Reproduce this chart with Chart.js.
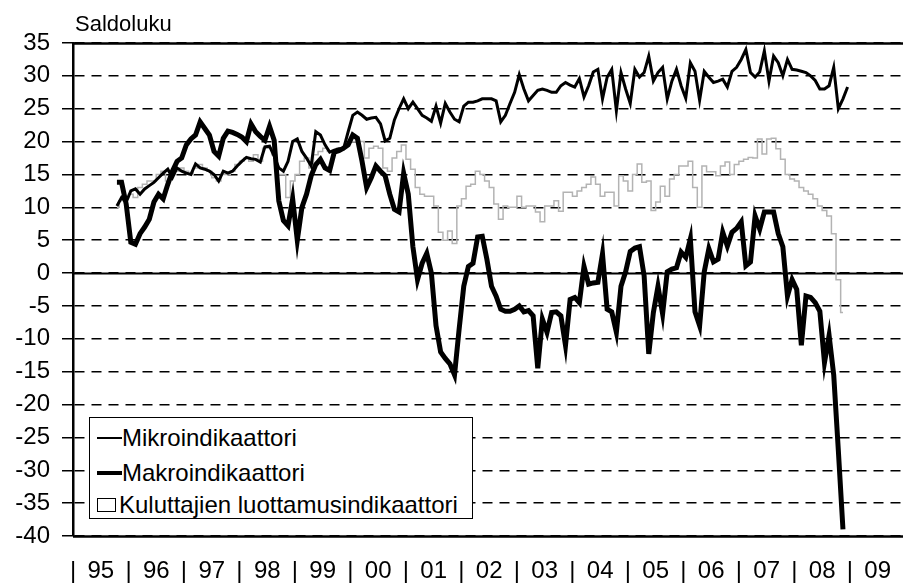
<!DOCTYPE html>
<html>
<head>
<meta charset="utf-8">
<script src="https://cdn.jsdelivr.net/npm/chart.js@4.4.1/dist/chart.umd.min.js"></script>
<style>
html,body{margin:0;padding:0;background:#fff;overflow:hidden;}
#wrap{position:relative;width:903px;height:587px;overflow:hidden;background:#fff;}
#c{position:absolute;left:0;top:0;}
#legend{position:absolute;left:89px;top:417px;width:384px;height:102px;border:1.5px solid #000;background:#fff;
  font-family:"Liberation Sans",Arial,sans-serif;font-size:24px;color:#000;box-sizing:border-box;}
.row{position:absolute;left:7px;height:30px;line-height:30px;white-space:nowrap;}
.ln{display:inline-block;vertical-align:middle;width:25px;background:#000;}
.sq{display:inline-block;vertical-align:middle;width:19px;height:14px;border:1.5px solid #000;background:#fff;margin-right:3px;box-sizing:border-box;}
</style>
</head>
<body>
<div id="wrap">
  <canvas id="c" width="912" height="587"></canvas>
  <div id="legend"></div>
</div>
<script>
// ---- data ----
const Y_TITLE = 'Saldoluku';
const YEARS = ['95','96','97','98','99','00','01','02','03','04','05','06','07','08','09'];
const SERIES_NAMES = ['Mikroindikaattori','Makroindikaattori','Kuluttajien luottamusindikaattori'];
const START_MONTH = 9; // first observation: October 1995 (months counted from January 1995)

const mikro = [
  10.2, 11.5, 10.8,
  12.5, 12.8, 12.0, 12.8, 13.3, 13.8, 14.5, 15.2, 15.8, 14.5, 16.0, 15.5,
  15.2, 15.0, 16.6, 16.0, 15.8, 15.5, 15.0, 14.0, 15.5, 15.2, 15.5, 16.3,
  17.0, 17.6, 17.4, 17.3, 16.9, 19.2, 19.3, 17.8, 16.0, 15.5, 17.0, 20.0,
  20.4, 18.5, 17.5, 16.3, 21.5, 21.0, 19.5, 18.4, 18.7, 18.9, 18.9, 21.5,
  24.0, 24.5, 24.0, 23.4, 23.6, 23.7, 22.7, 20.1, 20.5, 23.3, 25.0, 26.5,
  25.0, 26.0, 25.0, 24.0, 23.6, 23.1, 25.4, 22.8, 25.8, 24.5, 23.4, 23.0,
  25.4, 26.0, 26.0, 26.2, 26.5, 26.5, 26.5, 26.2, 23.0, 24.0, 25.8, 27.5,
  30.2, 28.0, 26.2, 27.0, 27.8, 28.0, 27.8, 27.5, 27.5, 28.5, 29.0, 28.6,
  28.3, 29.6, 26.8, 28.5, 30.6, 31.0, 26.5, 29.8, 31.0, 24.7, 30.5, 28.0,
  25.8, 31.0, 29.8, 30.5, 33.0, 29.2, 30.5, 31.3, 26.5, 29.2, 31.0, 28.5,
  26.6, 32.0, 30.7, 26.3, 30.7, 29.8, 29.0, 29.2, 29.5, 28.3, 30.7, 31.3,
  32.5, 34.0, 30.5, 29.8, 30.6, 33.8, 29.2, 33.0, 32.0, 30.0, 32.5, 31.0,
  30.9, 30.7, 30.5, 30.0, 29.3, 28.0, 28.0, 28.5, 31.3, 25.0, 26.5, 28.3
];
const makro = [
  13.8, 13.8, 10.5,
  4.7, 4.4, 6.0, 7.0, 8.2, 10.8, 12.0, 11.3, 13.5, 15.5, 17.0, 17.5,
  19.5, 20.4, 21.0, 23.0, 22.0, 21.0, 18.5, 17.8, 20.5, 21.6, 21.4, 21.1,
  20.7, 20.0, 22.7, 21.5, 20.8, 20.2, 22.3, 20.2, 11.0, 8.0, 7.2, 11.3,
  5.0, 10.0, 12.0, 14.8, 16.5, 17.3, 16.0, 15.6, 18.4, 18.6, 19.0, 19.5,
  21.0, 20.5, 17.0, 13.0, 14.5, 16.3, 15.5, 14.8, 12.0, 9.7, 9.3, 15.2,
  12.0, 4.0, -1.0, 1.5, 3.0, 0.0, -8.0, -12.0, -13.0, -13.8, -15.5, -8.5,
  -2.0, 1.0, 1.5, 5.5, 5.6, 2.1, -2.0, -3.5, -5.5, -5.8, -5.8, -5.5,
  -5.0, -5.9, -5.7, -6.5, -14.5, -7.0, -9.0, -6.0, -5.9, -6.5, -11.0, -4.0,
  -3.7, -4.5, 1.0, -1.7, -1.5, -1.4, 2.9, -5.5, -5.9, -9.0, -2.0, 0.2,
  3.3, 3.8, 4.0, -0.4, -12.3, -6.0, -2.0, -6.2, 0.2, 0.6, 0.8, 3.2,
  2.4, 5.2, -5.9, -8.0, 0.2, 3.7, 1.7, 2.1, 6.2, 4.1, 6.2, 6.8,
  7.8, 1.1, 1.7, 8.7, 6.7, 9.3, 9.3, 9.3, 6.0, 4.0, -3.5, -1.0,
  -2.5, -11.0, -3.5, -3.7, -4.5, -5.8, -13.6, -9.5, -15.5, -27.0, -39.0
];
const kuluttajat = [
  10.0, 11.0, 11.5,
  12.0, 11.5, 13.0, 13.5, 14.0, 14.0, 15.0, 15.5, 14.0, 15.0, 15.5, 16.0,
  15.5, 15.0, 16.0, 16.5, 16.0, 15.5, 14.5, 14.0, 15.0, 15.0, 15.5, 16.5,
  17.0, 17.5, 17.0, 18.0, 17.0, 19.0, 19.0, 18.0, 15.0, 15.0, 11.5, 14.0,
  15.0, 17.0, 17.5, 16.0, 18.0, 18.5, 19.0, 18.5, 18.5, 19.0, 19.0, 20.0,
  20.0, 20.0, 20.0, 17.5, 19.0, 19.3, 19.0, 16.0, 15.5, 17.5, 18.5, 19.5,
  17.3, 15.8, 13.0, 12.0, 11.7, 11.7, 10.2, 6.2, 5.0, 6.4, 4.5, 10.2,
  11.3, 13.2, 13.5, 15.5, 15.0, 14.0, 13.0, 10.5, 8.2, 10.2, 10.0, 10.0,
  11.7, 10.0, 10.2, 10.2, 9.3, 7.8, 10.2, 10.2, 11.0, 9.4, 12.3, 12.3,
  11.7, 12.5, 13.0, 13.5, 14.6, 13.5, 11.7, 12.3, 12.3, 10.2, 14.8, 14.0,
  12.5, 15.0, 16.6, 13.8, 14.0, 9.5, 10.8, 13.2, 11.7, 14.3, 15.0, 16.3,
  16.3, 17.0, 13.0, 10.0, 16.3, 15.4, 15.4, 14.8, 16.3, 16.9, 15.0, 16.5,
  17.0, 17.3, 17.6, 17.5, 20.4, 18.1, 20.4, 20.5, 18.9, 17.3, 15.0, 14.3,
  14.0, 13.0, 12.5, 12.0, 11.3, 10.2, 9.5, 8.7, 6.0, -1.0, -6.0
];

// ---- build ----
const FONT = '"Liberation Sans", Arial, sans-serif';
Chart.defaults.font.family = FONT;
Chart.defaults.color = '#000';
const toPoints = arr => arr.map((v, i) => ({x: START_MONTH + i + 0.5, y: v}));

// HTML legend
const legend = document.getElementById('legend');
const swatches = [
  '<span class="ln" style="height:2px;"></span>',
  '<span class="ln" style="height:4px;"></span>',
  '<span class="sq"></span>'
];
SERIES_NAMES.forEach((name, i) => {
  const r = document.createElement('div');
  r.className = 'row';
  r.style.top = [3, 38, 70][i] + 'px';
  r.innerHTML = swatches[i] + '<span style="vertical-align:middle">' + name + '</span>';
  legend.appendChild(r);
});

const extras = {
  id: 'extras',
  beforeDatasetsDraw(chart) {
    const {ctx, chartArea: {left, right}, scales: {y}} = chart;
    ctx.save();
    ctx.strokeStyle = '#000';
    [[0, 2], [y.max, 2.5], [y.min, 2.5]].forEach(([v, w]) => {
      const py = Math.round(y.getPixelForValue(v)) + 0.5;
      ctx.lineWidth = w;
      ctx.beginPath(); ctx.moveTo(left, py); ctx.lineTo(right, py); ctx.stroke();
    });
    ctx.restore();
  },
  afterDraw(chart) {
    const {ctx, chartArea: {left, top}} = chart;
    ctx.save();
    ctx.fillStyle = '#000';
    ctx.font = '22px ' + FONT;
    ctx.textBaseline = 'alphabetic';
    ctx.textAlign = 'left';
    ctx.fillText(Y_TITLE, left + 2, top - 12);
    ctx.restore();
  }
};

new Chart(document.getElementById('c'), {
  type: 'line',
  data: {
    datasets: [
      {label: SERIES_NAMES[1], data: toPoints(makro), borderColor: '#000', borderWidth: 5, pointRadius: 0, tension: 0, fill: false},
      {label: SERIES_NAMES[0], data: toPoints(mikro), borderColor: '#000', borderWidth: 3, pointRadius: 0, tension: 0, fill: false},
      {label: SERIES_NAMES[2], data: toPoints(kuluttajat), borderColor: '#b3b3b3', borderWidth: 1.5, pointRadius: 0, stepped: 'middle', fill: false}
    ]
  },
  options: {
    responsive: false,
    animation: false,
    layout: {padding: {top: 43, left: 0, right: 0, bottom: 0}},
    plugins: {legend: {display: false}, tooltip: {enabled: false}},
    scales: {
      x: {
        type: 'linear', min: 0, max: 180,
        afterBuildTicks: s => {
          const t = [];
          for (let v = 0; v < YEARS.length * 12; v += 6) t.push({value: v});
          s.ticks = t;
        },
        afterFit: s => { s.height = 51; },
        ticks: {
          autoSkip: false, maxRotation: 0, minRotation: 0, padding: 21,
          font: {size: 24}, color: '#000',
          callback: v => (v % 12 === 0 ? '|' : YEARS[(v - 6) / 12])
        },
        grid: {display: false, drawTicks: false},
        border: {display: false}
      },
      y: {
        min: -40, max: 35,
        afterFit: s => { s.width = 73; },
        ticks: {stepSize: 5, padding: 12, font: {size: 24}, color: '#000'},
        grid: {color: '#000', lineWidth: 1.5, tickLength: 11, tickColor: '#000', tickWidth: 1.5, tickBorderDash: []},
        border: {display: true, color: '#000', width: 2.5, dash: [10, 7]}
      }
    }
  },
  plugins: [extras]
});
</script>
</body>
</html>
